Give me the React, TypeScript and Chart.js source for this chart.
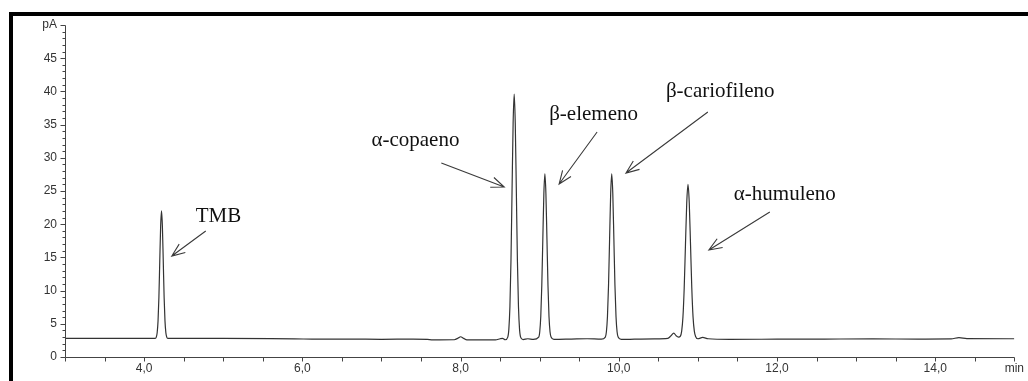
import React, { useEffect, useRef } from 'react';
import { Chart, registerables } from 'chart.js';

Chart.register(...registerables);

// Retention time (min) and detector signal (pA)
const timeMin = [
  3.0, 3.5, 4.0, 4.14,
  4.154, 4.165, 4.176, 4.187, 4.198, 4.209, 4.22, 4.231, 4.242, 4.253, 4.264, 4.275, 4.286, 4.3,
  5.0, 5.6, 5.9, 6.2, 6.6, 7.0, 7.4, 7.58, 7.65, 7.92, 7.97, 8.0, 8.04, 8.08, 8.44, 8.5, 8.53, 8.565,
  8.597, 8.6105, 8.624, 8.6375, 8.651, 8.6645, 8.678, 8.6915, 8.705, 8.7185, 8.732, 8.7455, 8.759, 8.79,
  8.85, 8.92,
  8.988, 9.001, 9.014, 9.027, 9.04, 9.053, 9.066, 9.079, 9.092, 9.105, 9.118, 9.131, 9.144, 9.18,
  9.4, 9.6, 9.78,
  9.83, 9.8435, 9.857, 9.8705, 9.884, 9.8975, 9.911, 9.9245, 9.938, 9.9515, 9.965, 9.9785, 9.992, 10.03,
  10.2, 10.45, 10.62, 10.66, 10.695, 10.725, 10.755,
  10.779, 10.795, 10.811, 10.827, 10.843, 10.859, 10.875, 10.891, 10.907, 10.923, 10.939, 10.955, 10.971, 11.0,
  11.06, 11.13, 11.4, 12.0, 12.6, 13.2, 13.8, 14.2, 14.3, 14.4, 15.0,
];
const signalPA = [
  2.8, 2.8, 2.8, 2.8,
  3.0, 3.65, 5.4, 9.0, 14.45, 19.7, 22.0, 19.7, 14.45, 9.0, 5.4, 3.65, 3.0, 2.8,
  2.8, 2.78, 2.74, 2.68, 2.7, 2.66, 2.7, 2.64, 2.58, 2.6, 2.85, 3.05, 2.8, 2.58, 2.58, 2.75, 2.82, 2.6,
  3.0, 4.2, 7.6, 14.6, 25.1, 35.2, 39.6, 35.2, 25.1, 14.6, 7.6, 4.2, 3.0, 2.62,
  2.75, 2.65,
  3.0, 3.8, 6.1, 10.8, 17.8, 24.6, 27.6, 24.6, 17.8, 10.8, 6.1, 3.8, 3.0, 2.65,
  2.7, 2.75, 2.68,
  3.0, 3.8, 6.1, 10.8, 17.8, 24.6, 27.6, 24.6, 17.8, 10.8, 6.1, 3.8, 3.0, 2.65,
  2.68, 2.72, 2.8, 3.2, 3.6, 3.2, 3.0,
  3.15, 3.9, 6.0, 10.4, 16.9, 23.2, 26.0, 23.2, 16.9, 10.4, 6.0, 3.9, 3.1, 2.75,
  2.95, 2.75, 2.66, 2.68, 2.7, 2.72, 2.7, 2.72, 2.92, 2.78, 2.75,
];

// Axis ranges and tick labels
const xRange = [3, 15];
const yRange = [0, 50];
const xLabelTicks = [4, 6, 8, 10, 12, 14];
const xUnitLabel = 'min';
const yUnitLabel = 'pA';

// Peak annotations (data coordinates)
const peakNames = ['TMB', 'α-copaeno', 'β-elemeno', 'β-cariofileno', 'α-humuleno'];
const labelX = [4.653, 6.874, 9.12, 10.596, 11.454];
const labelY = [20.38, 31.78, 35.69, 39.2, 23.64];
const arrowFromX = [4.779, 7.757, 9.726, 11.126, 11.909];
const arrowFromY = [18.98, 29.22, 33.89, 36.9, 21.84];
const arrowToX = [4.35, 8.552, 9.246, 10.091, 11.139];
const arrowToY = [15.21, 25.6, 26.05, 27.71, 16.11];

export default function App() {
  const ref = useRef<HTMLCanvasElement>(null);

  useEffect(() => {
    document.documentElement.style.overflow = 'hidden';
    document.body.style.margin = '0';
    const canvas = ref.current;
    if (!canvas) return;

    const points = timeMin.map((t, i) => ({ x: t, y: signalPA[i] }));

    const axisPlugin = {
      id: 'axisTicks',
      afterDraw(chart: any) {
        const { ctx, scales } = chart;
        const xs = scales.x;
        const ys = scales.y;
        const ax = Math.round(xs.getPixelForValue(xRange[0])) + 0.5;
        const ay = Math.round(ys.getPixelForValue(yRange[0])) + 0.5;
        const axR = Math.round(xs.getPixelForValue(xRange[1])) + 0.5;
        const ayT = Math.round(ys.getPixelForValue(yRange[1])) + 0.5;
        ctx.save();
        ctx.strokeStyle = '#444';
        ctx.lineWidth = 1;
        ctx.beginPath();
        ctx.moveTo(ax, ayT);
        ctx.lineTo(ax, ay);
        ctx.lineTo(axR, ay);
        ys.ticks.forEach((t: any) => {
          const py = Math.round(ys.getPixelForValue(t.value)) + 0.5;
          const len = t.value % 5 === 0 ? 5 : 3;
          ctx.moveTo(ax - len, py);
          ctx.lineTo(ax, py);
        });
        xs.ticks.forEach((t: any) => {
          const px = Math.round(xs.getPixelForValue(t.value)) + 0.5;
          ctx.moveTo(px, ay);
          ctx.lineTo(px, ay + 4);
        });
        ctx.stroke();

        // annotations
        ctx.font = '21px "Liberation Serif", "Times New Roman", serif';
        ctx.fillStyle = '#111';
        ctx.textAlign = 'left';
        ctx.textBaseline = 'alphabetic';
        ctx.strokeStyle = '#3a3a3a';
        ctx.lineWidth = 1.1;
        peakNames.forEach((name, i) => {
          ctx.fillText(name, xs.getPixelForValue(labelX[i]), ys.getPixelForValue(labelY[i]));
          const x1 = xs.getPixelForValue(arrowFromX[i]);
          const y1 = ys.getPixelForValue(arrowFromY[i]);
          const x2 = xs.getPixelForValue(arrowToX[i]);
          const y2 = ys.getPixelForValue(arrowToY[i]);
          const ang = Math.atan2(y1 - y2, x1 - x2);
          const head = 14;
          const spread = 0.38;
          ctx.beginPath();
          ctx.moveTo(x1, y1);
          ctx.lineTo(x2, y2);
          ctx.moveTo(x2 + head * Math.cos(ang + spread), y2 + head * Math.sin(ang + spread));
          ctx.lineTo(x2, y2);
          ctx.lineTo(x2 + head * Math.cos(ang - spread), y2 + head * Math.sin(ang - spread));
          ctx.stroke();
        });
        ctx.restore();
      },
    };

    const tickFont = { family: '"Liberation Sans", Arial, sans-serif', size: 12 };

    const chart = new Chart(canvas, {
      type: 'line',
      data: {
        datasets: [
          {
            data: points,
            borderColor: '#333',
            borderWidth: 1.2,
            pointRadius: 0,
            cubicInterpolationMode: 'monotone',
            fill: false,
          },
        ],
      },
      options: {
        animation: false,
        responsive: false,
        maintainAspectRatio: false,
        layout: { padding: { left: 0, top: 25, right: 12, bottom: 0 } },
        plugins: { legend: { display: false }, tooltip: { enabled: false } },
        scales: {
          x: {
            type: 'linear',
            min: xRange[0],
            max: xRange[1],
            afterFit: (s: any) => {
              s.height = 24;
            },
            grid: { display: false, drawTicks: false },
            border: { display: false },
            ticks: {
              stepSize: 0.5,
              autoSkip: false,
              maxRotation: 0,
              padding: 4,
              color: '#333',
              font: tickFont,
              callback: (v: any) => {
                const n = Number(v);
                if (n === xRange[1]) return xUnitLabel;
                return xLabelTicks.includes(n) ? n.toFixed(1).replace('.', ',') : '';
              },
            },
          },
          y: {
            type: 'linear',
            min: yRange[0],
            max: yRange[1],
            afterFit: (s: any) => {
              s.width = 65;
            },
            grid: { display: false, drawTicks: false },
            border: { display: false },
            ticks: {
              stepSize: 1,
              autoSkip: false,
              padding: 8,
              color: '#333',
              font: tickFont,
              callback: (v: any) => {
                const n = Number(v);
                if (n === yRange[1]) return yUnitLabel;
                return n % 5 === 0 ? String(n) : '';
              },
            },
          },
        },
      },
      plugins: [axisPlugin],
    } as any);

    return () => chart.destroy();
  }, []);

  return (
    <div
      style={{
        position: 'fixed',
        left: 0,
        top: 0,
        width: 1028,
        height: 381,
        background: '#fff',
        overflow: 'hidden',
      }}
    >
      <div
        style={{
          position: 'absolute',
          left: 9,
          top: 12,
          width: 1100,
          height: 500,
          border: '4px solid #000',
        }}
      />
      <canvas
        ref={ref}
        width={1028}
        height={381}
        style={{ position: 'absolute', left: 0, top: 0 }}
      />
    </div>
  );
}
